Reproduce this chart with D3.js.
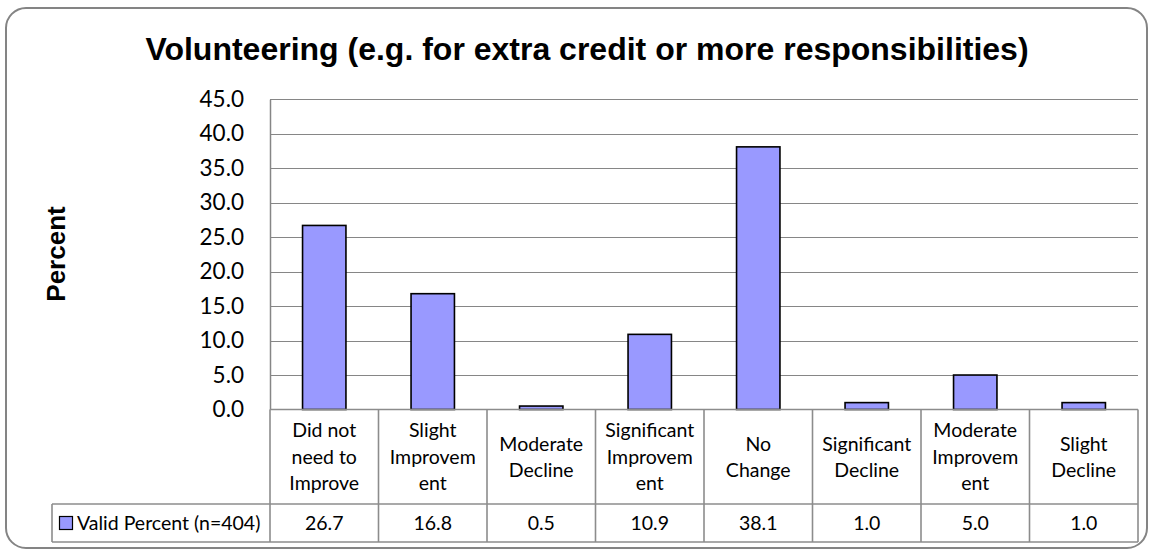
<!DOCTYPE html>
<html>
<head>
<meta charset="utf-8">
<script src="https://cdn.jsdelivr.net/npm/d3@7"></script>
<style>
  html, body { margin: 0; padding: 0; background: #fff; }
  svg { display: block; }
</style>
</head>
<body>
<svg id="chart" width="1151" height="550"></svg>
<script>
// Response categories, in the order they appear on the axis
const categories = [
  ["Did not", "need to", "Improve"],
  ["Slight", "Improvem", "ent"],
  ["Moderate", "Decline"],
  ["Significant", "Improvem", "ent"],
  ["No", "Change"],
  ["Significant", "Decline"],
  ["Moderate", "Improvem", "ent"],
  ["Slight", "Decline"]
];
const values = [26.7, 16.8, 0.5, 10.9, 38.1, 1.0, 5.0, 1.0];
const yTicks = [0, 5, 10, 15, 20, 25, 30, 35, 40, 45];
const seriesName = "Valid Percent (n=404)";
const titleText = "Volunteering (e.g. for extra credit or more responsibilities)";
const yLabel = "Percent";

const svg = d3.select("#chart");

const plot = { left: 270, right: 1138, top: 99.3, bottom: 409.5 };
const table = { left: 52, catBottom: 504, valBottom: 542 };
const tableFont = "Lato, Calibri, sans-serif";
const tableSize = 19.5;

const keys = categories.map((c, i) => i);
const x = d3.scaleBand()
  .domain(keys)
  .range([plot.left, plot.right])
  .paddingInner(0.6)
  .paddingOuter(0.3);
const xCell = d3.scaleBand().domain(keys).range([plot.left, plot.right]);
const y = d3.scaleLinear().domain([0, 45]).range([plot.bottom, plot.top]);

// Outer rounded frame
svg.append("rect")
  .attr("x", 6).attr("y", 8)
  .attr("width", 1141).attr("height", 540)
  .attr("rx", 20).attr("ry", 20)
  .attr("fill", "#fff")
  .attr("stroke", "#848484")
  .attr("stroke-width", 2);

// Title
svg.append("text")
  .attr("x", 587).attr("y", 60)
  .attr("text-anchor", "middle")
  .attr("font-family", "Liberation Sans, Arial, sans-serif")
  .attr("font-weight", "bold")
  .attr("font-size", 32)
  .attr("fill", "#000")
  .text(titleText);

// Y axis title
svg.append("text")
  .attr("transform", "translate(65,254) rotate(-90)")
  .attr("text-anchor", "middle")
  .attr("font-family", "Liberation Sans, Arial, sans-serif")
  .attr("font-weight", "bold")
  .attr("font-size", 26)
  .text(yLabel);

// Horizontal gridlines
svg.append("g")
  .selectAll("line")
  .data(yTicks.filter(t => t > 0))
  .join("line")
  .attr("x1", plot.left).attr("x2", plot.right)
  .attr("y1", d => Math.round(y(d)) + 0.5).attr("y2", d => Math.round(y(d)) + 0.5)
  .attr("stroke", "#868686")
  .attr("stroke-width", 1.2);

// Y axis with tick labels
const yAxis = d3.axisLeft(y)
  .tickValues(yTicks)
  .tickFormat(d3.format(".1f"))
  .tickSize(0)
  .tickPadding(26);
const gy = svg.append("g")
  .attr("transform", `translate(${plot.left},0)`)
  .call(yAxis);
gy.select(".domain").attr("stroke", "#868686").attr("stroke-width", 1.5);
gy.selectAll("text")
  .attr("font-family", tableFont)
  .attr("font-size", 22.5)
  .attr("fill", "#000");

// Bars
svg.append("g")
  .selectAll("rect")
  .data(values)
  .join("rect")
  .attr("x", (d, i) => x(i))
  .attr("width", x.bandwidth())
  .attr("y", d => y(d))
  .attr("height", d => y(0) - y(d))
  .attr("fill", "#9999ff")
  .attr("stroke", "#000")
  .attr("stroke-width", 1.6);

// Data table below the axis
const tg = svg.append("g").attr("stroke", "#8c8c8c").attr("stroke-width", 1.6);
// top border (category axis line)
tg.append("line").attr("x1", plot.left).attr("x2", plot.right)
  .attr("y1", plot.bottom).attr("y2", plot.bottom);
// row divider and bottom
tg.append("line").attr("x1", table.left).attr("x2", plot.right)
  .attr("y1", table.catBottom).attr("y2", table.catBottom);
tg.append("line").attr("x1", table.left).attr("x2", plot.right)
  .attr("y1", table.valBottom).attr("y2", table.valBottom);
// legend cell left edge
tg.append("line").attr("x1", table.left).attr("x2", table.left)
  .attr("y1", table.catBottom).attr("y2", table.valBottom);
// column dividers
tg.selectAll("line.col")
  .data(keys.concat([keys.length]))
  .join("line")
  .attr("class", "col")
  .attr("x1", d => d < keys.length ? xCell(d) : plot.right)
  .attr("x2", d => d < keys.length ? xCell(d) : plot.right)
  .attr("y1", plot.bottom).attr("y2", table.valBottom);

// Category labels
const catRowMid = (plot.bottom + table.catBottom) / 2;
const lineH = 26.5;
const cg = svg.append("g")
  .attr("font-family", tableFont)
  .attr("font-size", tableSize)
  .attr("text-anchor", "middle")
  .attr("fill", "#000");
categories.forEach((lines, i) => {
  const cx = xCell(i) + xCell.bandwidth() / 2;
  const t = cg.append("text").attr("x", cx);
  lines.forEach((ln, j) => {
    t.append("tspan")
      .attr("x", cx)
      .attr("y", catRowMid + (j - (lines.length - 1) / 2) * lineH + 7)
      .text(ln);
  });
});

// Value row
const valRowMid = (table.catBottom + table.valBottom) / 2;
svg.append("g")
  .attr("font-family", tableFont)
  .attr("font-size", tableSize)
  .attr("text-anchor", "middle")
  .selectAll("text")
  .data(values)
  .join("text")
  .attr("x", (d, i) => xCell(i) + xCell.bandwidth() / 2)
  .attr("y", valRowMid + 7)
  .text(d => d3.format(".1f")(d));

// Legend key inside the table
svg.append("rect")
  .attr("x", 59.5).attr("y", valRowMid - 6.5)
  .attr("width", 13).attr("height", 13)
  .attr("fill", "#9999ff")
  .attr("stroke", "#000")
  .attr("stroke-width", 1.2);
svg.append("text")
  .attr("x", 77).attr("y", valRowMid + 7)
  .attr("font-family", tableFont)
  .attr("font-size", tableSize)
  .text(seriesName);
</script>
</body>
</html>
